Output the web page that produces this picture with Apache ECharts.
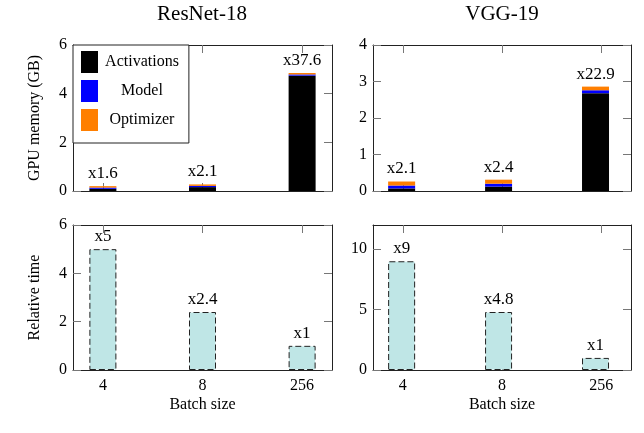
<!DOCTYPE html>
<html>
<head>
<meta charset="utf-8">
<script src="https://cdn.jsdelivr.net/npm/echarts@6/dist/echarts.min.js"></script>
<style>html,body{margin:0;padding:0;background:#fff;}#chart{width:644px;height:433px;}</style>
</head>
<body>
<div id="chart"></div>
<script>
const batchSizes = ['4', '8', '256'];

const resnetActivations = [0.09, 0.16, 4.74];
const resnetModel = [0.05, 0.05, 0.05];
const resnetOptimizer = [0.06, 0.06, 0.06];
const resnetMemLabels = ['x1.6', 'x2.1', 'x37.6'];

const vggActivations = [0.07, 0.12, 2.68];
const vggModel = [0.08, 0.08, 0.08];
const vggOptimizer = [0.11, 0.11, 0.10];
const vggMemLabels = ['x2.1', 'x2.4', 'x22.9'];

const resnetTime = [5, 2.4, 1];
const resnetTimeLabels = ['x5', 'x2.4', 'x1'];
const vggTime = [9, 4.8, 1];
const vggTimeLabels = ['x9', 'x4.8', 'x1'];

const memTicksResnet = [0, 2, 4, 6];
const memTicksVgg = [0, 1, 2, 3, 4];
const timeTicksResnet = [0, 2, 4, 6];
const timeTicksVgg = [0, 5, 10];

const FONT = "'Liberation Serif', 'DejaVu Serif', serif";
const frameColor = '#222';
const tickColor = '#777';
const PAD = 0.3; // enlarge x limits, in category units

const frames = [
  {left: 73, top: 45, width: 259, height: 146},
  {left: 373, top: 45, width: 258, height: 146},
  {left: 73, top: 225, width: 259, height: 145},
  {left: 373, top: 225, width: 258, height: 145}
];
const yMax = [6, 4, 6, 12];
const yTicks = [memTicksResnet, memTicksVgg, timeTicksResnet, timeTicksVgg];
const yNames = ['GPU memory (GB)', '', 'Relative time', ''];
const tickPos = batchSizes.map((_, i) => i);

const span = (batchSizes.length - 1) + 2 * PAD;
const dataGrids = frames.map(f => {
  const unit = f.width / span;
  return {left: f.left + PAD * unit - unit / 2, top: f.top, width: unit * batchSizes.length, height: f.height};
});

const grids = frames.concat(dataGrids);
const xAxes = [];
const yAxes = [];

frames.forEach((g, gi) => {
  const isBottomRow = gi >= 2;
  ['bottom', 'top'].forEach(pos => {
    xAxes.push({
      type: 'value', gridIndex: gi, position: pos, min: -PAD, max: batchSizes.length - 1 + PAD,
      axisLine: {show: true, onZero: false, lineStyle: {color: frameColor, width: 1}},
      axisTick: {show: true, inside: true, length: 8, customValues: tickPos, lineStyle: {color: tickColor}},
      splitLine: {show: false},
      axisLabel: {
        show: isBottomRow && pos === 'bottom', customValues: tickPos, margin: 8,
        formatter: v => batchSizes[Math.round(v)] || '',
        fontFamily: FONT, fontSize: 16, color: '#000'
      },
      name: (isBottomRow && pos === 'bottom') ? 'Batch size' : '',
      nameLocation: 'middle', nameGap: 27,
      nameTextStyle: {fontFamily: FONT, fontSize: 16, color: '#000'}
    });
  });
  ['left', 'right'].forEach(pos => {
    yAxes.push({
      type: 'value', gridIndex: gi, position: pos, min: 0, max: yMax[gi],
      axisLine: {show: true, onZero: false, lineStyle: {color: frameColor, width: 1}},
      axisTick: {show: true, inside: true, length: 8, customValues: yTicks[gi], lineStyle: {color: tickColor}},
      splitLine: {show: false},
      axisLabel: {
        show: pos === 'left', customValues: yTicks[gi], margin: 6,
        fontFamily: FONT, fontSize: 16, color: '#000'
      },
      name: pos === 'left' ? yNames[gi] : '',
      nameLocation: 'middle', nameGap: 30, nameRotate: 90,
      nameTextStyle: {fontFamily: FONT, fontSize: 16, color: '#000'}
    });
  });
});

dataGrids.forEach((g, k) => {
  xAxes.push({type: 'category', gridIndex: 4 + k, data: batchSizes, boundaryGap: true, show: false});
  yAxes.push({type: 'value', gridIndex: 4 + k, min: 0, max: yMax[k], show: false, splitLine: {show: false}});
});

function memSeries(k, act, model, opt, labels, stackName) {
  const base = {type: 'bar', stack: stackName, xAxisIndex: 8 + k, yAxisIndex: 8 + k, barWidth: 27};
  return [
    Object.assign({}, base, {name: 'Activations', data: act, itemStyle: {color: '#000'}}),
    Object.assign({}, base, {name: 'Model', data: model, itemStyle: {color: '#0000ff'}}),
    Object.assign({}, base, {
      name: 'Optimizer', data: opt, itemStyle: {color: '#ff7f00'},
      label: {show: true, position: 'top', distance: 4, formatter: p => labels[p.dataIndex],
        fontFamily: FONT, fontSize: 17, color: '#000'}
    })
  ];
}

function timeSeries(k, vals, labels) {
  return {
    type: 'bar', name: 'time' + k, xAxisIndex: 8 + k, yAxisIndex: 8 + k, barWidth: 27,
    data: vals,
    itemStyle: {color: '#bfe6e6', borderColor: '#222', borderWidth: 1, borderType: [6, 3]},
    label: {show: true, position: 'top', distance: 4, formatter: p => labels[p.dataIndex],
      fontFamily: FONT, fontSize: 17, color: '#000'}
  };
}

const series = [].concat(
  memSeries(0, resnetActivations, resnetModel, resnetOptimizer, resnetMemLabels, 'r'),
  memSeries(1, vggActivations, vggModel, vggOptimizer, vggMemLabels, 'v'),
  [timeSeries(2, resnetTime, resnetTimeLabels), timeSeries(3, vggTime, vggTimeLabels)]
);

const chart = echarts.init(document.getElementById('chart'), null, {renderer: 'canvas'});
chart.setOption({
  animation: false,
  backgroundColor: '#fff',
  grid: grids,
  xAxis: xAxes,
  yAxis: yAxes,
  series: series,
  legend: {
    data: ['Activations', 'Model', 'Optimizer'],
    orient: 'vertical', left: 73, top: 45,
    icon: 'rect', itemWidth: 17, itemHeight: 22, itemGap: 7,
    padding: [6, 10, 12, 8],
    backgroundColor: '#fff', borderColor: '#222', borderWidth: 1,
    selectedMode: false,
    formatter: '{a|{name}}',
    textStyle: {fontFamily: FONT, fontSize: 16, color: '#000',
      rich: {a: {width: 78, align: 'center', fontFamily: FONT, fontSize: 16, color: '#000'}}}
  },
  graphic: [
    {type: 'text', x: 202, y: 14, style: {text: 'ResNet-18', fontFamily: FONT, fontSize: 21, fill: '#000', textAlign: 'center', textVerticalAlign: 'middle'}},
    {type: 'text', x: 502, y: 14, style: {text: 'VGG-19', fontFamily: FONT, fontSize: 21, fill: '#000', textAlign: 'center', textVerticalAlign: 'middle'}}
  ]
});
</script>
</body>
</html>
